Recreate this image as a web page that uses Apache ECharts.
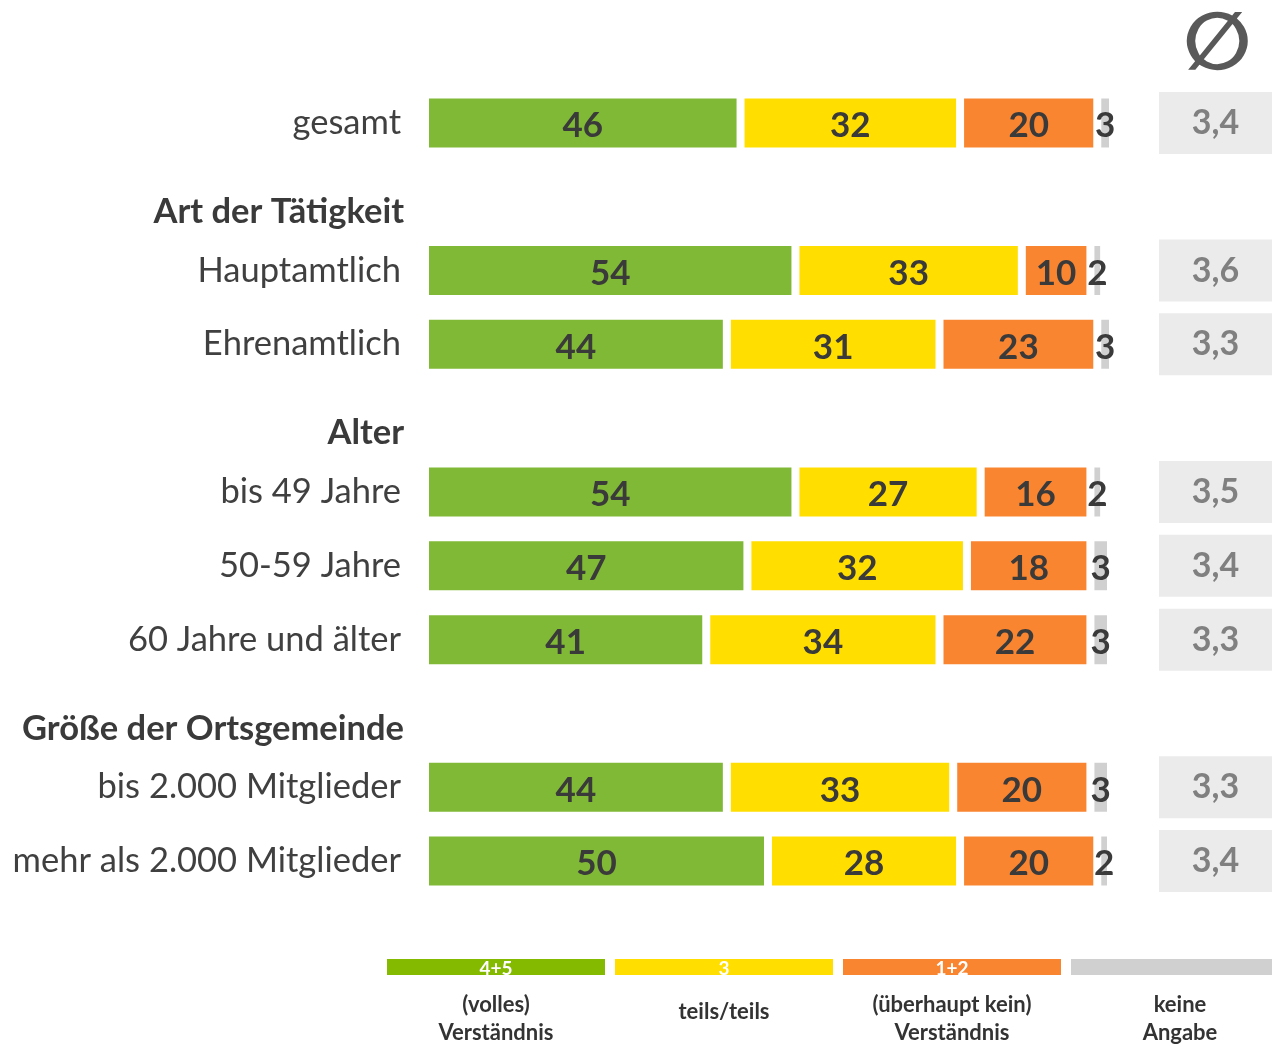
<!DOCTYPE html>
<html>
<head>
<meta charset="utf-8">
<script src="https://cdn.jsdelivr.net/npm/echarts@6/dist/echarts.min.js"></script>
<style>
  html, body { margin: 0; padding: 0; background: #fff; }
  #chart { width: 1272px; height: 1047px; }
</style>
</head>
<body>
<div id="chart"></div>
<script>
// Zeilen (von oben nach unten), Zwischenüberschriften ohne Werte
const categories = ['gesamt', 'Art der Tätigkeit', 'Hauptamtlich', 'Ehrenamtlich', 'Alter',
  'bis 49 Jahre', '50-59 Jahre', '60 Jahre und älter', 'Größe der Ortsgemeinde',
  'bis 2.000 Mitglieder', 'mehr als 2.000 Mitglieder'];
const headings = ['Art der Tätigkeit', 'Alter', 'Größe der Ortsgemeinde'];

// Anteile in Prozent
const volles = [46, null, 54, 44, null, 54, 47, 41, null, 44, 50];
const teils = [32, null, 33, 31, null, 27, 32, 34, null, 33, 28];
const kein = [20, null, 10, 23, null, 16, 18, 22, null, 20, 20];
const keineAngabe = [3, null, 2, 3, null, 2, 3, 3, null, 3, 2];
// Mittelwert (Ø)
const mittelwert = [3.4, null, 3.6, 3.3, null, 3.5, 3.4, 3.3, null, 3.3, 3.4];

// Legende (Position 1..4 auf der Legendenachse)
const legendPos = [1, 2, 3, 4];
const legendCodes = ['4+5', '3', '1+2', ''];
const legendNames = ['(volles)\nVerständnis', 'teils/teils', '(überhaupt kein)\nVerständnis', 'keine\nAngabe'];

const colors = ['#80b935', '#ffde00', '#f98531', '#d0d0d0'];
const legendColors = ['#84ba00', '#ffde00', '#f98531', '#d0d0d0'];
const numFont = 'Lato';

const myChart = echarts.init(document.getElementById('chart'));

// gestapelte Balken
function barSeries(name, data, color) {
  return {
    name: name,
    type: 'bar',
    stack: 'total',
    xAxisIndex: 0,
    yAxisIndex: 0,
    barWidth: 57,
    data: data,
    itemStyle: { color: color, borderColor: '#fff', borderWidth: 4 },
    label: {
      show: true,
      position: 'inside',
      offset: [0, 3],
      fontFamily: numFont,
      fontWeight: 'bold',
      fontSize: 35,
      color: '#3a3a3a'
    }
  };
}

const option = {
  animation: false,
  title: {
    text: '∅',
    left: 1178,
    top: 3,
    textStyle: { fontFamily: 'DejaVu Sans', fontSize: 80, fontWeight: 'bold', color: '#595959' }
  },
  grid: [
    { left: 425, right: 161, top: 86, height: 812 },   // Balken
    { left: 1159, right: 0, top: 86, height: 812 },    // Mittelwert
    { left: 382, right: 0, top: 959, height: 20 }      // Legende
  ],
  xAxis: [
    { gridIndex: 0, type: 'value', min: 0, max: 100, show: false },
    { gridIndex: 1, type: 'value', min: 0, max: 1, show: false },
    {
      gridIndex: 2,
      type: 'value',
      min: 0.5,
      max: 0.5 + 890 / 228,
      interval: 0.5,
      axisLine: { show: false },
      axisTick: { show: false },
      splitLine: { show: false },
      axisLabel: {
        margin: 16,
        showMinLabel: true,
        showMaxLabel: false,
        fontFamily: numFont,
        fontWeight: 700,
        fontSize: 22,
        lineHeight: 28,
        color: '#333',
        formatter: v => {
          const i = legendPos.indexOf(v);
          if (i < 0) return '';
          const t = legendNames[i];
          return t.indexOf('\n') >= 0 ? t : '{s|' + t + '}';
        },
        rich: {
          s: { fontFamily: numFont, fontWeight: 700, fontSize: 22, lineHeight: 28, color: '#333', padding: [14, 0, 0, 0] }
        }
      }
    }
  ],
  yAxis: [
    {
      gridIndex: 0,
      type: 'category',
      inverse: true,
      data: categories,
      axisLine: { show: false },
      axisTick: { show: false },
      axisLabel: {
        margin: 24,
        fontFamily: 'Lato',
        fontSize: 34.5,
        color: '#404040',
        formatter: v => headings.indexOf(v) >= 0 ? '{h|' + v + '}' : v,
        rich: {
          h: { fontFamily: 'Lato', fontSize: 34.5, fontWeight: 'bold', color: '#3a3a3a', padding: [30, -3, 0, 0] }
        }
      }
    },
    { gridIndex: 1, type: 'category', inverse: true, data: categories, show: false },
    { gridIndex: 2, type: 'value', min: 0, max: 1, show: false }
  ],
  series: [
    barSeries('(volles) Verständnis', volles, colors[0]),
    barSeries('teils/teils', teils, colors[1]),
    barSeries('(überhaupt kein) Verständnis', kein, colors[2]),
    barSeries('keine Angabe', keineAngabe, colors[3]),
    {
      name: 'Mittelwert',
      type: 'bar',
      xAxisIndex: 1,
      yAxisIndex: 1,
      barWidth: 62,
      data: mittelwert.map(v => v == null ? null : 1),
      itemStyle: { color: '#ebebeb' },
      label: {
        show: true,
        position: 'inside',
        fontFamily: numFont,
        fontWeight: 'bold',
        fontSize: 34,
        color: '#808080',
        formatter: p => mittelwert[p.dataIndex].toFixed(1).replace('.', ',')
      }
    },
    {
      name: 'Legende',
      type: 'bar',
      xAxisIndex: 2,
      yAxisIndex: 2,
      barWidth: 218,
      data: legendPos.map((x, i) => ({ value: [x, 1], itemStyle: { color: legendColors[i] } })),
      label: {
        show: true,
        position: 'inside',
        offset: [0, 2],
        fontFamily: numFont,
        fontWeight: 'bold',
        fontSize: 19,
        color: '#fff',
        formatter: p => legendCodes[p.dataIndex]
      }
    }
  ]
};

myChart.setOption(option);
</script>
</body>
</html>
